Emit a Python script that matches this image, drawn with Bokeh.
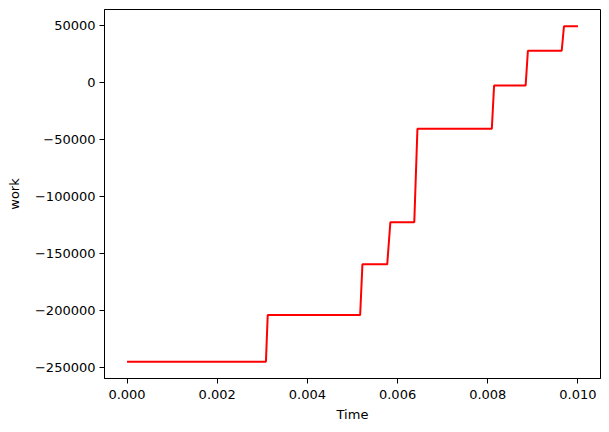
from bokeh.plotting import figure
from bokeh.models import Range1d, FixedTicker
from bokeh.embed import file_html
from bokeh.resources import INLINE

# step-like work curve
time = [0.0, 0.00308, 0.00312, 0.00517, 0.00522, 0.00577, 0.00584, 0.00637,
        0.00644, 0.00809, 0.00814, 0.00884, 0.00889, 0.00964, 0.00969, 0.0100]
work = [-245000, -245000, -204000, -204000, -159500, -159500, -122500, -122500,
        -40500, -40500, -2500, -2500, 28000, 28000, 49500, 49500]

x_ticks = [0.0, 0.002, 0.004, 0.006, 0.008, 0.010]
x_labels = ["0.000", "0.002", "0.004", "0.006", "0.008", "0.010"]
y_ticks = [-250000, -200000, -150000, -100000, -50000, 0, 50000]
y_labels = ["\u2212250000", "\u2212200000", "\u2212150000", "\u2212100000",
            "\u221250000", "0", "50000"]

# matplotlib-like 5% margins
xpad = (max(time) - min(time)) * 0.05
ypad = (max(work) - min(work)) * 0.05

p = figure(width=601, height=424, output_backend="svg", toolbar_location=None,
           x_range=Range1d(min(time) - xpad, max(time) + xpad),
           y_range=Range1d(min(work) - ypad, max(work) + ypad),
           min_border_left=104, min_border_right=1, min_border_top=9,
           min_border_bottom=45)

p.line(time, work, color="red", line_width=2)

p.grid.visible = False
p.outline_line_color = "black"
p.outline_line_alpha = 1
p.outline_line_width = 1
p.background_fill_color = "white"
p.border_fill_color = "white"

p.xaxis.ticker = FixedTicker(ticks=x_ticks)
p.xaxis.major_label_overrides = dict(zip(x_ticks, x_labels))
p.yaxis.ticker = FixedTicker(ticks=y_ticks)
p.yaxis.major_label_overrides = dict(zip(y_ticks, y_labels))

p.xaxis.axis_label = "Time"
p.yaxis.axis_label = "work"

for ax in (p.xaxis, p.yaxis):
    ax.axis_line_color = "black"
    ax.major_tick_line_color = "black"
    ax.major_tick_out = 5
    ax.major_tick_in = 0
    ax.minor_tick_line_color = None
    ax.major_label_standoff = 4
    ax.major_label_text_font = "DejaVu Sans"
    ax.major_label_text_font_size = "13px"
    ax.major_label_text_color = "black"
    ax.axis_label_text_font = "DejaVu Sans"
    ax.axis_label_text_font_size = "13px"
    ax.axis_label_text_font_style = "normal"
    ax.axis_label_text_color = "black"

p.xaxis.major_label_standoff = 6
p.xaxis.axis_label_standoff = 5
p.yaxis.axis_label_standoff = 10

open("out.html", "w").write(file_html(p, INLINE))
